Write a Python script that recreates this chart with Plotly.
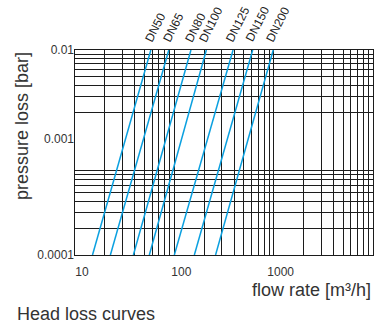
import numpy as np
import plotly.graph_objects as go

# ---- data ----
series_names = ["DN50", "DN65", "DN80", "DN100", "DN125", "DN150", "DN200"]
flow_at_p_low = [15, 22.7, 38.7, 56, 100, 159, 260]      # m3/h at 0.0001 bar
flow_at_p_high = [58, 88, 147, 210, 390, 615, 990]       # m3/h at 0.01 bar
p_low = 0.0001
p_high = 0.01

x_tick_vals = [10, 100, 1000, 10000]
x_tick_text = ["10", "100", "1000", ""]
y_top_tick_vals = [0.001, 0.01]
y_top_tick_text = ["0.001", "0.01"]
y_bot_tick_vals = [0.0001, 0.001]
y_bot_tick_text = ["0.0001", ""]

def minors(decades):
    out = []
    for d in decades:
        out += [m * d for m in range(2, 10)]
    return out

BLUE = "#0AA0E0"
GRID = "#1c1c1c"
FONT = "Liberation Sans, Arial, sans-serif"
TXT = "#333333"

fig = go.Figure()

# helper traces so the grid-only subplots exist
fig.add_trace(go.Scatter(x=[None], y=[None], xaxis="x", yaxis="y", showlegend=False, hoverinfo="skip"))
fig.add_trace(go.Scatter(x=[None], y=[None], xaxis="x", yaxis="y2", showlegend=False, hoverinfo="skip"))

for name, qa, qb in zip(series_names, flow_at_p_low, flow_at_p_high):
    fig.add_trace(go.Scatter(
        x=[qa, qb], y=[p_low, p_high], mode="lines", name=name,
        xaxis="x", yaxis="y3", showlegend=False,
        line=dict(color=BLUE, width=1.5),
    ))
    fig.add_annotation(
        x=np.log10(qb), y=1, xref="x", yref="paper", text=name,
        textangle=-63, showarrow=False, xanchor="center", yanchor="bottom",
        xshift=5, yshift=3, font=dict(family=FONT, size=12, color="#222"),
    )

grid_axis = dict(
    type="log", showgrid=True, gridcolor=GRID, gridwidth=1,
    ticks="", showline=False, zeroline=False,
    tickfont=dict(family=FONT, size=12, color=TXT),
)

fig.update_layout(
    width=379, height=329,
    margin=dict(l=75, r=6, t=50, b=74),
    paper_bgcolor="white", plot_bgcolor="rgba(0,0,0,0)",
    showlegend=False,
    xaxis=dict(
        type="log", range=[1, 4], anchor="y3",
        tickvals=x_tick_vals, ticktext=x_tick_text,
        showgrid=True, gridcolor=GRID, gridwidth=1,
        minor=dict(tickvals=minors([10, 100, 1000]), showgrid=True, gridcolor=GRID, gridwidth=1, ticks=""),
        ticks="", showline=True, linecolor=GRID, linewidth=1, mirror=True, zeroline=False,
        tickfont=dict(family=FONT, size=12, color=TXT),
        ticklabelstandoff=6, ticklabelshift=7,
    ),
    yaxis=dict(
        grid_axis, domain=[0.566, 1.0], range=[-3, -2], anchor="x",
        tickvals=y_top_tick_vals, ticktext=y_top_tick_text,
        minor=dict(tickvals=minors([0.001]), showgrid=True, gridcolor=GRID, gridwidth=1, ticks=""),
    ),
    yaxis2=dict(
        grid_axis, domain=[0.0, 0.434], range=[-4, -3], anchor="x",
        tickvals=y_bot_tick_vals, ticktext=y_bot_tick_text,
        minor=dict(tickvals=minors([0.0001]), showgrid=True, gridcolor=GRID, gridwidth=1, ticks=""),
    ),
    yaxis3=dict(
        type="log", domain=[0.0, 1.0], range=[-4, -2], anchor="x",
        showgrid=False, showticklabels=False, ticks="", zeroline=False,
        showline=True, linecolor=GRID, linewidth=1, mirror=True,
    ),
)

fig.add_annotation(
    text="pressure loss [bar]", xref="paper", yref="paper",
    x=-0.178, y=0.629, textangle=-90, showarrow=False,
    xanchor="center", yanchor="middle",
    font=dict(family=FONT, size=18, color=TXT),
)
fig.add_annotation(
    text="flow rate [m³/h]", xref="paper", yref="paper",
    x=1.0, y=-0.171, showarrow=False, xanchor="right", yanchor="middle",
    font=dict(family=FONT, size=18, color=TXT),
)
fig.add_annotation(
    text="Head loss curves", xref="paper", yref="paper",
    x=-0.2013, y=-0.290, showarrow=False, xanchor="left", yanchor="middle",
    font=dict(family=FONT, size=18, color=TXT),
)

fig.write_html("out.html")
